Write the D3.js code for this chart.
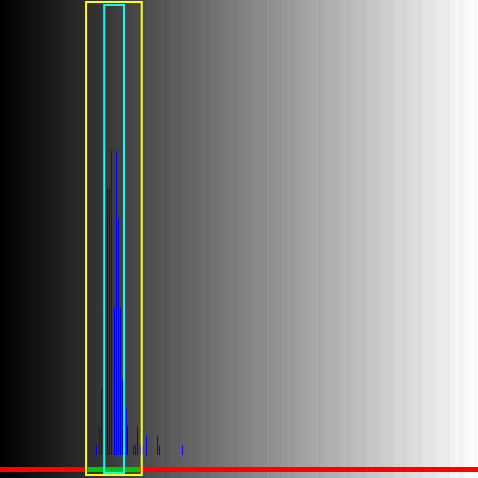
<!DOCTYPE html>
<html><head><meta charset="utf-8">
<script src="https://cdn.jsdelivr.net/npm/d3@7"></script>
<style>html,body{margin:0;padding:0;background:#000;}svg{display:block;}</style>
</head><body>
<script>
// Histogram of gray levels (bin index 0..255) and counts
const histBins   = [51, 53, 54, 55,   56, 57, 58, 59, 61,   62, 63, 64,   65, 66, 67, 68, 71, 72, 73, 75, 76, 78, 84, 85, 97];
const histCounts = [ 1,  3,  7, 15.5, 25, 28, 28, 32, 15.5, 32, 25, 15.5,  8,  9,  5,  3,  1,  1,  3,  1,  1,  2,  2,  1,  1];
// Marker ranges (in gray-level units)
const outerRange = [46.1, 75.9];   // yellow box
const innerRange = [55.8, 66.4];   // cyan box
const selRange   = [47.1, 75.0];   // green segment on axis
const levels = d3.range(256);

const W = 478, H = 478;
const svg = d3.select("body").append("svg").attr("width", W).attr("height", H);
const x = d3.scaleLinear().domain([0, 256]).range([0, W]);
const y = d3.scaleLinear().domain([0, 32]).range([455, 151]);

// gradient background
svg.append("g").selectAll("rect").data(levels).join("rect")
  .attr("x", d => x(d)).attr("y", 0)
  .attr("width", x(1) + 0.6).attr("height", H)
  .attr("fill", d => d3.rgb(d, d, d));

// histogram bars
const bars = histBins.map((b, i) => ({b, c: histCounts[i]}));
svg.append("g").selectAll("rect").data(bars).join("rect")
  .attr("x", d => Math.floor(x(d.b + 0.5))).attr("width", 1)
  .attr("y", d => y(d.c)).attr("height", d => y(0) - y(d.c))
  .attr("fill", "#0000ff");

// baseline red + green selection
svg.append("rect").attr("x", 0).attr("y", 467).attr("width", W).attr("height", 5).attr("fill", "#ff0000");
svg.append("rect").attr("x", x(selRange[0])).attr("y", 467)
  .attr("width", x(selRange[1]) - x(selRange[0])).attr("height", 5).attr("fill", "#00c800");

// cyan box
svg.append("rect").attr("x", x(innerRange[0])).attr("y", 5)
  .attr("width", x(innerRange[1]) - x(innerRange[0])).attr("height", 468)
  .attr("fill", "none").attr("stroke", "#00ffff").attr("stroke-width", 2);
// yellow box
svg.append("rect").attr("x", x(outerRange[0])).attr("y", 2)
  .attr("width", x(outerRange[1]) - x(outerRange[0])).attr("height", 473)
  .attr("fill", "none").attr("stroke", "#ffff00").attr("stroke-width", 2);
</script>
</body></html>
